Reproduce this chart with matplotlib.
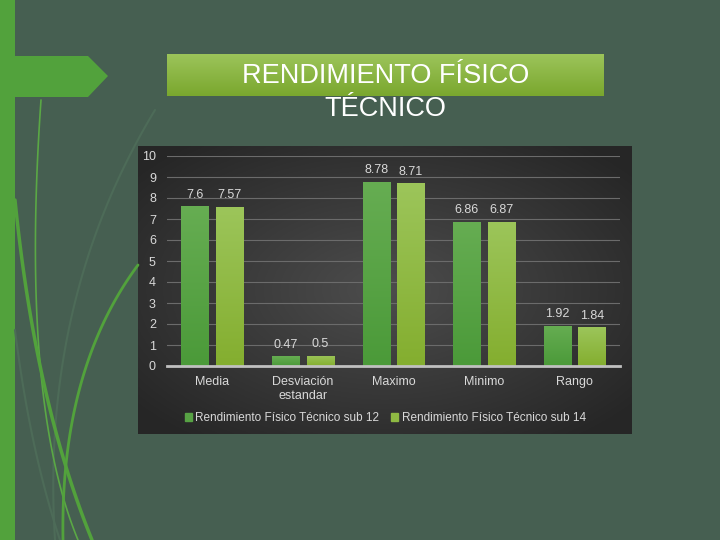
import numpy as np
import matplotlib
matplotlib.use("Agg")
import matplotlib.pyplot as plt
from matplotlib.patches import Polygon, Rectangle, Patch

plt.rcParams['font.family'] = ['Liberation Sans', 'DejaVu Sans']

# data
categories = ['Media', 'Desviación\nestandar', 'Maximo', 'Minimo', 'Rango']
sub12 = [7.6, 0.47, 8.78, 6.86, 1.92]
sub14 = [7.57, 0.5, 8.71, 6.87, 1.84]
series_names = ['Rendimiento Físico Técnico sub 12', 'Rendimiento Físico Técnico sub 14']
title_lines = ['RENDIMIENTO FÍSICO', 'TÉCNICO']

bg = '#465f51'
txt = '#d9d9d9'

fig = plt.figure(figsize=(7.2, 5.4), dpi=100)
fig.patch.set_facecolor(bg)

# decoration layer in pixel coordinates
deco = fig.add_axes([0, 0, 1, 1])
deco.set_xlim(0, 720)
deco.set_ylim(540, 0)
deco.axis('off')

def bez(p0, p1, p2, n=80):
    t = np.linspace(0, 1, n)[:, None]
    p0, p1, p2 = np.array(p0), np.array(p1), np.array(p2)
    return (1 - t) ** 2 * p0 + 2 * (1 - t) * t * p1 + t ** 2 * p2

for p0, p1, p2, lw, c in [
    ((155, 110), (40, 300), (55, 540), 1.5, '#4d6b58'),
    ((15, 330), (30, 450), (60, 540), 1.5, '#4d6b58'),
    ((41, 100), (20, 400), (78, 540), 1.2, '#5aa845'),
    ((15, 200), (35, 400), (92, 540), 2.5, '#52a23c'),
    ((138, 265), (60, 370), (63, 540), 2.0, '#52a23c'),
]:
    pts = bez(p0, p1, p2)
    deco.plot(pts[:, 0], pts[:, 1], color=c, lw=lw, solid_capstyle='round')

deco.add_patch(Rectangle((0, 0), 15, 540, color='#52a23c', lw=0))
deco.add_patch(Polygon([(15, 56), (88, 56), (108, 76), (88, 97), (15, 97)],
                       closed=True, color='#52a23c', lw=0))

# title box with vertical gradient
grad = np.linspace(0, 1, 64)[:, None]
top = np.array([0.612, 0.769, 0.353])
bot = np.array([0.478, 0.655, 0.180])
img = top + (bot - top) * grad[:, :, None]
deco.imshow(img, extent=(167, 604, 96, 54), aspect='auto', zorder=1)
deco.text(385.5, 76, title_lines[0], color='white', fontsize=19.5,
          ha='center', va='center', zorder=3)
deco.text(385.5, 109, title_lines[1], color='white', fontsize=19.5,
          ha='center', va='center', zorder=3)

# chart panel with radial gradient
yy, xx = np.mgrid[-1:1:200j, -1:1:300j]
r = np.clip(np.sqrt(xx ** 2 + yy ** 2) / 1.3, 0, 1)
panel = 0.30 - 0.15 * r
deco.imshow(np.dstack([panel] * 3), extent=(138, 632, 434, 146),
            aspect='auto', zorder=1)
deco.set_xlim(0, 720)
deco.set_ylim(540, 0)

# main chart
ax = fig.add_axes([167 / 720, (540 - 366) / 540, 453 / 720, 210 / 540])
ax.patch.set_alpha(0)
x = np.arange(len(categories))
w = 0.3
off = 0.19
grads = [('#66ad52', '#4b9a39'), ('#9cc55a', '#84ae2f')]
solid = ['#57a244', '#8fba43']

def hex2rgb(h):
    return np.array([int(h[i:i + 2], 16) / 255 for i in (1, 3, 5)])

for k, vals in enumerate([sub12, sub14]):
    bars = ax.bar(x + (k * 2 - 1) * off, vals, width=w, color=solid[k], zorder=3)
    t, b = hex2rgb(grads[k][0]), hex2rgb(grads[k][1])
    gimg = t + (b - t) * grad[:, :, None]
    for bar, v in zip(bars, vals):
        bx, bw = bar.get_x(), bar.get_width()
        im = ax.imshow(gimg, extent=(bx, bx + bw, 0, v), aspect='auto', zorder=4)
        im.set_clip_path(bar)
        ax.annotate(f'{v:g}', (bx + bw / 2, v), xytext=(0, 4),
                    textcoords='offset points', ha='center', va='bottom',
                    color=txt, fontsize=9)

ax.set_xlim(-0.5, 4.5)
ax.set_ylim(0, 10)
ax.set_yticks(range(11))
ax.set_xticks(x, categories)
ax.tick_params(axis='both', length=0, colors=txt, labelsize=9)
ax.tick_params(axis='y', pad=8)
ax.tick_params(axis='x', pad=7)
for s in ax.spines.values():
    s.set_visible(False)
ax.yaxis.grid(True, color='#6b6b6b', lw=0.8, zorder=0)
ax.set_axisbelow(True)
ax.axhline(0, color='#c0c0c0', lw=2, zorder=5, clip_on=False)

handles = [Patch(color=solid[0]), Patch(color=solid[1])]
fig.legend(handles, series_names, loc='center', bbox_to_anchor=(0.535, 1 - 418 / 540),
           ncol=2, frameon=False, fontsize=8.5, labelcolor=txt,
           handlelength=0.6, handleheight=0.6, handletextpad=0.3, columnspacing=1.0)

fig.savefig('out.png', dpi=100, facecolor=bg)
